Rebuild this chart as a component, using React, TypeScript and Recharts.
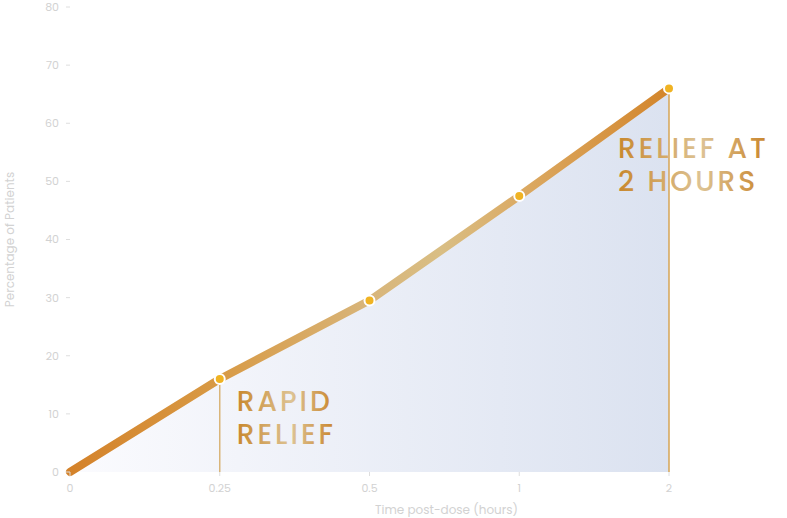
import { Area, ComposedChart, Line, ReferenceLine, XAxis, YAxis } from "recharts";

// hours after dose, and share of patients with relief
const hours = ["0", "0.25", "0.5", "1", "2"];
const reliefPct = [0, 16, 29.5, 47.5, 66];
const yTicks = [0, 10, 20, 30, 40, 50, 60, 70, 80];

// call-outs drawn next to two of the points
const rapidNote = ["RAPID", "RELIEF"];
const twoHourNote = ["RELIEF AT", "2 HOURS"];

const data = hours.map((hour, i) => ({ hour, relief: reliefPct[i] }));

const font = "Poppins, 'Open Sans', sans-serif";
const faint = "#d2d2d2";

function Note({ x, y, lines }: { x: number; y: number; lines: string[] }) {
  return (
    <text
      x={x}
      y={y}
      fill="url(#noteGold)"
      fontFamily={font}
      fontSize={28}
      fontWeight={500}
      letterSpacing={3}
    >
      {lines.map((line, i) => (
        <tspan key={line} x={x} dy={i === 0 ? 0 : 33}>
          {line}
        </tspan>
      ))}
    </text>
  );
}

function PointDot(props: any) {
  const { cx, cy, index } = props;
  if (index === 0 || cx == null) return <g key={`dot-${index}`} />;
  return (
    <g key={`dot-${index}`}>
      <circle cx={cx} cy={cy} r={5} fill="#f0b323" stroke="#fff" strokeWidth={2} />
      {index === 1 && <Note x={cx + 17} y={cy + 32} lines={rapidNote} />}
      {index === 4 && <Note x={cx - 51} y={cy + 70} lines={twoHourNote} />}
    </g>
  );
}

export default function App() {
  return (
    <div style={{ position: "fixed", left: 0, top: 0, background: "#fff" }}>
      <ComposedChart
        width={787}
        height={518}
        data={data}
        margin={{ top: 7, right: 118, left: 0, bottom: 0 }}
      >
        <defs>
          <linearGradient id="areaFill" x1="0" y1="0" x2="1" y2="0">
            <stop offset="0%" stopColor="#fbfbfe" />
            <stop offset="100%" stopColor="#dbe2f0" />
          </linearGradient>
          <linearGradient id="lineGold" x1="0" y1="0" x2="1" y2="0">
            <stop offset="0%" stopColor="#d4822a" />
            <stop offset="25%" stopColor="#d89a45" />
            <stop offset="50%" stopColor="#d8b57a" />
            <stop offset="62%" stopColor="#d9be84" />
            <stop offset="76%" stopColor="#dba962" />
            <stop offset="100%" stopColor="#d3852b" />
          </linearGradient>
          <linearGradient id="noteGold" x1="0" y1="0" x2="1" y2="0">
            <stop offset="0%" stopColor="#c8882e" />
            <stop offset="55%" stopColor="#ddc394" />
            <stop offset="100%" stopColor="#c9842a" />
          </linearGradient>
        </defs>
        <XAxis
          dataKey="hour"
          scale="point"
          padding={{ left: 0, right: 0 }}
          height={46}
          axisLine={false}
          tickSize={4}
          tickMargin={8}
          tickLine={{ stroke: "#dedede" }}
          tick={{ fill: faint, fontSize: 11, fontFamily: font }}
          label={{
            value: "Time post-dose (hours)",
            position: "insideBottom",
            offset: 4,
            dx: 77,
            fill: faint,
            fontSize: 12,
            fontFamily: font,
          }}
        />
        <YAxis
          domain={[0, 80]}
          ticks={yTicks}
          width={70}
          axisLine={false}
          tickSize={4}
          tickMargin={7}
          tickLine={{ stroke: "#dedede" }}
          tick={{ fill: faint, fontSize: 11, fontFamily: font }}
          label={{
            value: "Percentage of Patients",
            angle: -90,
            position: "insideLeft",
            offset: 10,
            style: { textAnchor: "middle" },
            fill: faint,
            fontSize: 12,
            fontFamily: font,
          }}
        />
        <Area
          dataKey="relief"
          type="linear"
          fill="url(#areaFill)"
          fillOpacity={1}
          stroke="none"
          isAnimationActive={false}
          activeDot={false}
        />
        <ReferenceLine
          segment={[
            { x: hours[1], y: 0 },
            { x: hours[1], y: reliefPct[1] },
          ]}
          stroke="#d9b57a"
          strokeWidth={1.5}
        />
        <ReferenceLine
          segment={[
            { x: hours[4], y: 0 },
            { x: hours[4], y: reliefPct[4] },
          ]}
          stroke="#d6a455"
          strokeWidth={1.5}
        />
        <Line
          dataKey="relief"
          type="linear"
          stroke="url(#lineGold)"
          strokeWidth={8}
          strokeLinecap="round"
          strokeLinejoin="round"
          dot={PointDot}
          activeDot={false}
          isAnimationActive={false}
        />
      </ComposedChart>
    </div>
  );
}
